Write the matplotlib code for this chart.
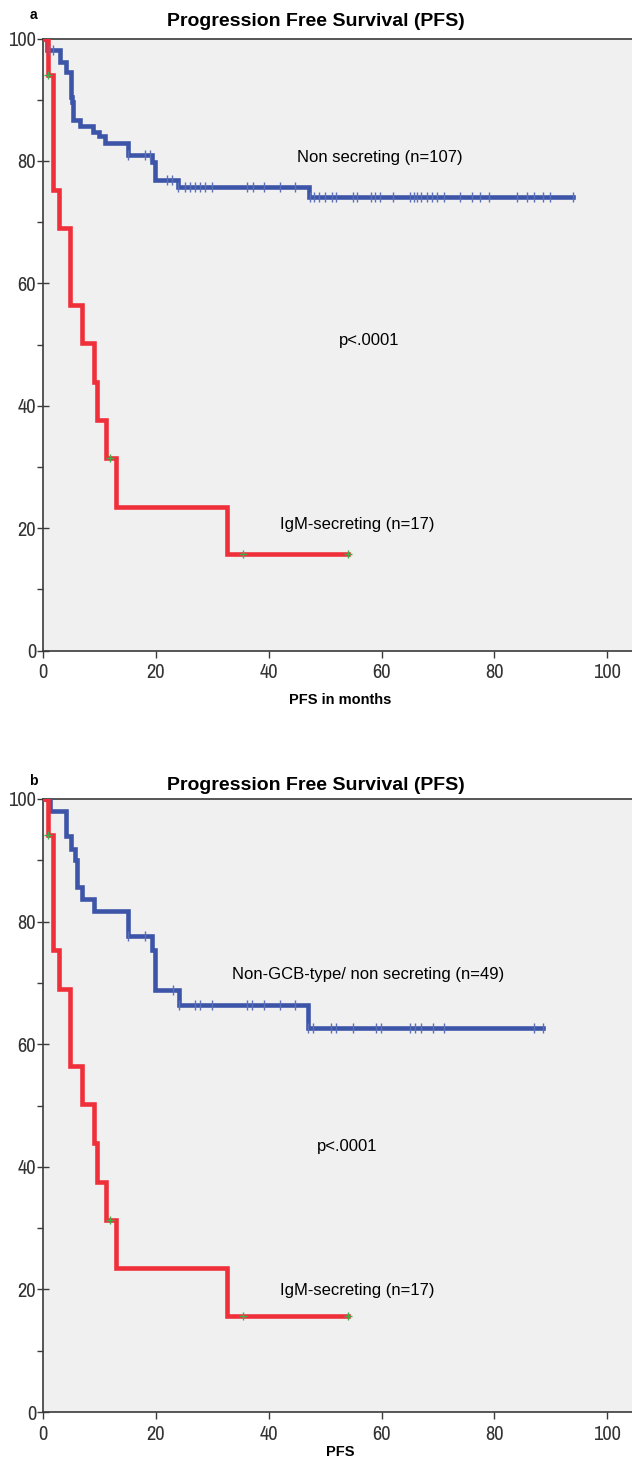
import numpy as np
import matplotlib
matplotlib.use("Agg")
import matplotlib.pyplot as plt
from matplotlib import font_manager as fm

# ---------------- data ----------------
# Panel a: Non secreting (n=107)
a_non_t = [0, 0.7, 3.1, 4.1, 5.0, 5.2, 5.4, 6.6, 8.9, 9.9, 11.0, 15.0, 19.3, 19.9, 24.0, 47.1]
a_non_s = [100, 98.1, 96.2, 94.6, 90.5, 89.7, 86.7, 85.7, 84.8, 84.0, 82.9, 81.0, 79.9, 76.9, 75.8, 74.1]
a_non_end = 94.0
a_non_cens = [1.1, 1.8, 15.0, 18.1, 19.0, 21.9, 22.8, 24.0, 25.2, 26.1, 27.0, 27.8, 28.7, 29.9,
              36.1, 37.3, 39.1, 42.0, 44.7, 47.3, 48.1, 49.0, 50.0, 51.2, 52.0, 55.0, 55.7,
              58.1, 58.9, 59.8, 62.0, 65.1, 65.8, 66.3, 67.0, 68.0, 68.9, 69.8, 71.0, 73.9,
              76.0, 77.5, 79.0, 84.0, 85.8, 87.1, 88.7, 89.9, 94.0]

# IgM-secreting (n=17) (same in both panels)
igm_t = [0, 0.8, 1.8, 2.8, 4.8, 7.0, 9.0, 9.5, 11.2, 12.9, 32.7]
igm_s = [100, 94.1, 75.3, 69.0, 56.5, 50.2, 43.9, 37.6, 31.4, 23.5, 15.7]
igm_end = 54.0
igm_cens = [0.9, 11.9, 35.5, 54.0]

# Panel b: Non-GCB-type/ non secreting (n=49)
b_non_t = [0, 1.2, 4.0, 5.0, 5.7, 6.1, 6.9, 9.1, 15.0, 19.3, 19.9, 24.1, 47.0]
b_non_s = [100, 98.0, 93.9, 91.9, 90.0, 85.7, 83.7, 81.7, 77.6, 75.4, 68.8, 66.4, 62.7]
b_non_end = 88.7
b_non_cens = [15.0, 18.1, 23.1, 24.1, 27.0, 27.8, 29.9, 36.1, 37.0, 39.1, 42.0, 44.7,
              47.0, 47.9, 51.0, 52.0, 55.0, 59.0, 59.9, 65.1, 66.0, 67.0, 69.1, 71.0,
              87.1, 88.7]

titles = ["Progression Free Survival (PFS)", "Progression Free Survival (PFS)"]
panel_letters = ["a", "b"]
xlabels = ["PFS in months", "PFS"]
non_labels = ["Non secreting (n=107)", "Non-GCB-type/ non secreting (n=49)"]
igm_label = "IgM-secreting (n=17)"
p_text = "p<.0001"
xticks = [0, 20, 40, 60, 80, 100]
yticks = [0, 20, 40, 60, 80, 100]

# ---------------- style ----------------
BLUE = "#3D55A8"
BLUE_TICK = "#5A70B8"
RED = "#EF2F3A"
GREEN = "#3DB04A"
BG = "#F0F0F0"
SPINE = "#3A3A3A"
SANS = ["Liberation Sans", "DejaVu Sans"]

# condensed font for tick labels
tick_fp = None
for f in fm.fontManager.ttflist:
    if "Narrow" in f.name or ("DejaVu Sans" == f.name and "Condensed" in f.fname and "Bold" not in f.fname
                               and "Oblique" not in f.fname):
        if tick_fp is None or "Narrow" in f.name:
            tick_fp = f.fname
if tick_fp:
    TICKFONT = fm.FontProperties(fname=tick_fp, size=16)
else:
    TICKFONT = fm.FontProperties(family=SANS, size=13)

W, H = 632, 1469
fig = plt.figure(figsize=(W / 100, H / 100), dpi=100)
fig.patch.set_facecolor("white")


def px_axes(left, top, right, bottom):
    return [left / W, 1 - bottom / H, (right - left) / W, (bottom - top) / H]


def step_curve(ax, t, s, end, cens, color, cmarker, ccolor, csize, cmew):
    tt = list(t) + [end]
    ss = list(s) + [s[-1]]
    ax.step(tt, ss, where="post", color=color, lw=3.3, solid_joinstyle="miter", zorder=3)
    idx = np.searchsorted(np.asarray(t), np.asarray(cens), side="right") - 1
    cy = np.asarray(s)[idx]
    ax.plot(cens, cy, linestyle="none", marker=cmarker, color=ccolor,
            markersize=csize, markeredgewidth=cmew, zorder=4)


panels = [
    dict(rect=px_axes(43, 38.5, 632, 650.5), non=(a_non_t, a_non_s, a_non_end, a_non_cens),
         non_xy=(45.0, 80.6), p_xy=(52.5, 50.6), igm_xy=(42.0, 20.6),
         letter_y=15, title_y=22, xlabel_y=700),
    dict(rect=px_axes(43, 799, 632, 1412), non=(b_non_t, b_non_s, b_non_end, b_non_cens),
         non_xy=(33.5, 71.4), p_xy=(48.5, 43.3), igm_xy=(42.0, 19.9),
         letter_y=781, title_y=786, xlabel_y=1452),
]

for i, P in enumerate(panels):
    ax = fig.add_axes(P["rect"])
    ax.set_facecolor(BG)
    ax.set_xlim(0, 104.4)
    ax.set_ylim(0, 100)
    t, s, e, c = P["non"]
    step_curve(ax, t, s, e, c, BLUE, "|", BLUE_TICK, 7, 1.0)
    step_curve(ax, igm_t, igm_s, igm_end, igm_cens, RED, "+", GREEN, 6, 1.0)

    for sp in ["left", "bottom", "top"]:
        ax.spines[sp].set_color(SPINE)
        ax.spines[sp].set_linewidth(1.2)
    ax.spines["right"].set_visible(False)

    ax.set_xticks(xticks)
    ax.set_yticks(yticks)
    ax.set_yticks([10, 30, 50, 70, 90], minor=True)
    ax.tick_params(axis="y", which="major", direction="inout", length=8, width=1.0,
                   colors=SPINE, labelcolor="#333333", pad=1)
    ax.tick_params(axis="y", which="minor", direction="out", length=4, width=1.0, colors=SPINE)
    ax.tick_params(axis="x", which="major", direction="out", length=5, width=1.0,
                   colors=SPINE, labelcolor="#333333", pad=4)
    for lab in ax.get_xticklabels() + ax.get_yticklabels():
        lab.set_fontproperties(TICKFONT)

    ax.text(*P["non_xy"], non_labels[i], fontsize=12, family=SANS, va="center", ha="left")
    ax.text(*P["p_xy"], p_text, fontsize=12, family=SANS, va="center", ha="left")
    ax.text(*P["igm_xy"], igm_label, fontsize=12, family=SANS, va="center", ha="left")

    fig.text(316 / W, 1 - P["title_y"] / H, titles[i], fontsize=14, fontweight="bold",
             family=SANS, ha="center", va="center")
    fig.text(33 / W, 1 - P["letter_y"] / H, panel_letters[i], fontsize=10, fontweight="bold",
             family=SANS, ha="center", va="center")
    fig.text(340 / W, 1 - P["xlabel_y"] / H, xlabels[i], fontsize=10.5, fontweight="bold",
             family=SANS, ha="center", va="center")

fig.savefig("out.png", dpi=100, facecolor="white")
